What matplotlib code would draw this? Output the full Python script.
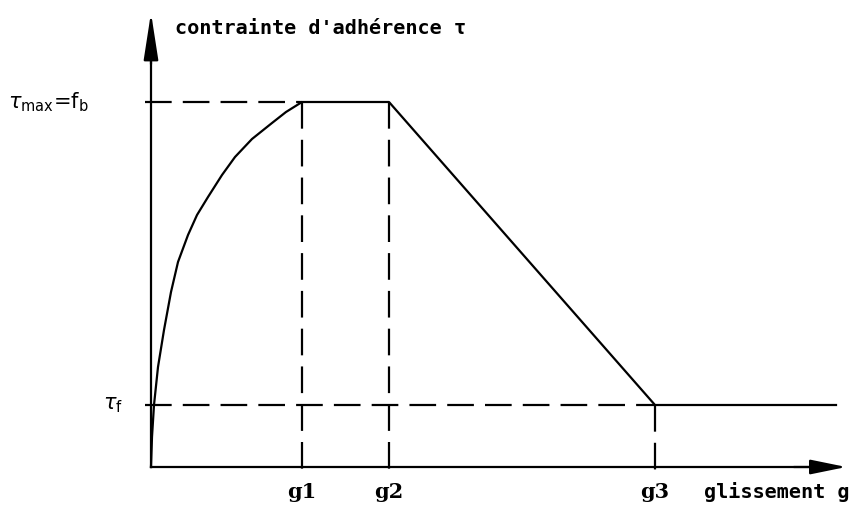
import matplotlib.pyplot as plt

# bond stress - slip law (arbitrary units, origin at the axes corner)
slip_curve = [0, 1, 3, 7, 13, 20, 27, 37, 46, 57, 71, 84, 101, 121, 135, 151]
tau_curve = [0, 30, 62, 100, 137, 175, 205, 232, 252, 270, 292, 310, 328, 344, 355, 365]

g1, g2, g3, g_end = 151, 238, 504, 685
tau_max, tau_f = 365, 62

slip = slip_curve + [g2, g3, g_end]
tau = tau_curve + [tau_max, tau_f, tau_f]

fig = plt.figure(figsize=(8.49, 5.24), dpi=100)
ax = fig.add_axes([0, 0, 1, 1])
ax.set_xlim(-151, 698)
ax.set_ylim(-57, 467)
ax.axis('off')

lw = 1.6
dash = dict(color='black', lw=lw, linestyle=(0, (12, 5)))

# axes with arrows
ax.plot([0, 0], [0, 420], color='black', lw=lw)
ax.plot([0, 675], [0, 0], color='black', lw=lw)
ax.annotate('', xy=(0, 457), xytext=(0, 400),
            arrowprops=dict(arrowstyle='-|>,head_length=2.9,head_width=0.45',
                            mutation_scale=10, color='black', lw=lw))
ax.annotate('', xy=(698, 0), xytext=(640, 0),
            arrowprops=dict(arrowstyle='-|>,head_length=2.2,head_width=0.45',
                            mutation_scale=10, color='black', lw=lw))

# reference lines
ax.plot([-6, g1], [tau_max, tau_max], **dash)
ax.plot([-6, g3], [tau_f, tau_f], **dash)
ax.plot([g1, g1], [tau_max, -5], **dash)
ax.plot([g2, g2], [tau_max, -5], **dash)
ax.plot([g3, g3], [tau_f, -5], **dash)

# bond law
ax.plot(slip, tau, color='black', lw=lw, solid_joinstyle='round')

mono = dict(family='DejaVu Sans Mono', fontweight='bold', fontsize=14.5, color='black')
ax.text(24, 439, "contrainte d'adhérence τ", ha='left', va='center', **mono)
ax.text(553, -25, 'glissement g', ha='left', va='center', **mono)

serif = dict(family='DejaVu Serif', fontweight='bold', fontsize=15, color='black')
for g, name in [(g1, 'g1'), (g2, 'g2'), (g3, 'g3')]:
    ax.text(g, -25, name, ha='center', va='center', **serif)

ax.text(-143, tau_max, r'$\tau_{\rm max}$=f$_{\rm b}$', ha='left', va='center',
        fontsize=15, color='black')
ax.text(-48, tau_f, r'$\tau_{\rm f}$', ha='left', va='center',
        fontsize=15, color='black')

fig.savefig('out.png', dpi=100)
